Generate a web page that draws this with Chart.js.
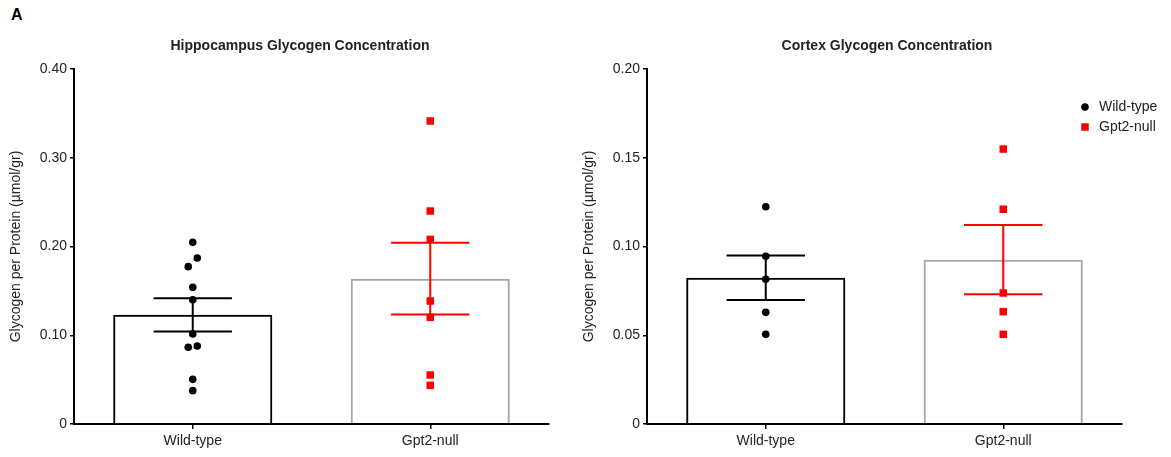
<!DOCTYPE html>
<html>
<head>
<meta charset="utf-8">
<script src="https://cdn.jsdelivr.net/npm/chart.js@4/dist/chart.umd.min.js"></script>
<style>
  html, body { margin: 0; padding: 0; background: #fff; overflow: hidden; }
  #wrap { position: relative; width: 1171px; height: 457px; }
  #tag { position: absolute; left: 11px; top: 6px; font: bold 16px "Liberation Sans", Arial, sans-serif; color: #000; }
  canvas { position: absolute; top: 0; }
</style>
</head>
<body>
<div id="wrap">
  <div id="tag">A</div>
  <canvas id="hippo" width="573" height="457" style="left:0"></canvas>
  <canvas id="cortex" width="598" height="457" style="left:573px"></canvas>
</div>
<script>
const groups = ['Wild-type', 'Gpt2-null'];

// Hippocampus glycogen per protein (µmol/gr), one value per animal
const hippoWildType = [0.2047, 0.1870, 0.1773, 0.1540, 0.1400, 0.1014, 0.0879, 0.0864, 0.0503, 0.0376];
const hippoGpt2Null = [0.3414, 0.2400, 0.2080, 0.1386, 0.1202, 0.0552, 0.0436];
const hippoMean = [0.1230, 0.1638];
const hippoSem = [0.0188, 0.0404];
const hippoTicks = [0, 0.1, 0.2, 0.3, 0.4];

// Cortex glycogen per protein (µmol/gr)
const cortexWildType = [0.1224, 0.0945, 0.0815, 0.0629, 0.0505];
const cortexGpt2Null = [0.1549, 0.1210, 0.0738, 0.0633, 0.0505];
const cortexMean = [0.0824, 0.0926];
const cortexSem = [0.0125, 0.0195];
const cortexTicks = [0, 0.05, 0.10, 0.15, 0.20];

const yAxisTitle = 'Glycogen per Protein (µmol/gr)';

// horizontal spread of overlapping dots, in category units
const hippoWildTypeSpread = [0, 0.019, -0.019, 0, 0, 0, 0.019, -0.019, 0, 0];

const FONT = '"Liberation Sans", Arial, Helvetica, sans-serif';
const INK = '#222';

// mean ± SEM whiskers drawn on the jitter axis
const errorBars = {
  id: 'errorBars',
  afterDatasetsDraw(chart, args, o) {
    const ctx = chart.ctx, xs = chart.scales.xj, ys = chart.scales.y;
    o.center.forEach((m, i) => {
      const s = o.spread[i];
      const xc = xs.getPixelForValue(i);
      const xl = xs.getPixelForValue(i - o.cap);
      const xr = xs.getPixelForValue(i + o.cap);
      const yt = ys.getPixelForValue(m + s);
      const yb = ys.getPixelForValue(m - s);
      ctx.save();
      ctx.strokeStyle = o.colors[i];
      ctx.lineWidth = o.width;
      ctx.beginPath();
      ctx.moveTo(xc, yt); ctx.lineTo(xc, yb);
      ctx.moveTo(xl, yt); ctx.lineTo(xr, yt);
      ctx.moveTo(xl, yb); ctx.lineTo(xr, yb);
      ctx.stroke();
      ctx.restore();
    });
  }
};

// panel heading
const panelTitle = {
  id: 'panelTitle',
  afterDraw(chart, args, o) {
    if (!o.text) return;
    const ctx = chart.ctx;
    ctx.save();
    ctx.font = 'bold 14px ' + FONT;
    ctx.fillStyle = INK;
    ctx.textAlign = 'center';
    ctx.textBaseline = 'middle';
    ctx.fillText(o.text, o.x, o.y);
    ctx.restore();
  }
};

// key listing the dot series
const dotKey = {
  id: 'dotKey',
  afterDraw(chart, args, o) {
    if (!o.show) return;
    const ctx = chart.ctx;
    let y = o.y;
    chart.data.datasets.filter(d => d.type === 'scatter').forEach(d => {
      ctx.save();
      ctx.fillStyle = d.backgroundColor;
      ctx.strokeStyle = d.backgroundColor;
      Chart.helpers.drawPoint(ctx, {
        pointStyle: d.pointStyle, radius: d.pointRadius, rotation: 0, borderWidth: 0
      }, o.x, y);
      ctx.restore();
      ctx.save();
      ctx.font = '14px ' + FONT;
      ctx.fillStyle = INK;
      ctx.textAlign = 'left';
      ctx.textBaseline = 'middle';
      ctx.fillText(d.label, o.x + 14, y);
      ctx.restore();
      y += o.step;
    });
  }
};

function dots(values, idx, spread) {
  return values.map((v, i) => ({ x: idx + (spread ? spread[i] : 0), y: v }));
}

function makePanel(id, cfg) {
  const ticks = cfg.ticks;
  return new Chart(document.getElementById(id), {
    type: 'bar',
    data: {
      labels: groups,
      datasets: [
        {
          type: 'bar',
          label: 'Mean',
          data: cfg.mean,
          xAxisID: 'x',
          yAxisID: 'y',
          backgroundColor: 'rgba(0,0,0,0)',
          borderColor: ['#000000', '#a7a7a9'],
          borderWidth: 2,
          borderSkipped: 'start',
          grouped: false,
          barPercentage: 0.67,
          categoryPercentage: 1,
          order: 3
        },
        {
          type: 'scatter',
          label: groups[0],
          data: dots(cfg.wt, 0, cfg.wtSpread),
          xAxisID: 'xj',
          yAxisID: 'y',
          pointStyle: 'circle',
          pointRadius: 3.8,
          backgroundColor: '#000000',
          borderWidth: 0,
          order: 1
        },
        {
          type: 'scatter',
          label: groups[1],
          data: dots(cfg.ko, 1, null),
          xAxisID: 'xj',
          yAxisID: 'y',
          pointStyle: 'rect',
          pointRadius: 5.3,
          backgroundColor: '#ff0000',
          borderWidth: 0,
          order: 2
        }
      ]
    },
    options: {
      responsive: false,
      animation: false,
      events: [],
      layout: { padding: { left: 0, top: 69, right: cfg.padRight, bottom: 0 } },
      scales: {
        x: {
          type: 'category',
          offset: true,
          grid: { display: true, drawOnChartArea: false, offset: false, color: '#000', lineWidth: 1.5, tickLength: 5 },
          border: { display: true, color: '#000', width: 2 },
          ticks: { color: INK, font: { family: FONT, size: 14 }, padding: 4, maxRotation: 0 },
          afterFit(s) { s.height = 33; }
        },
        xj: { type: 'linear', display: false, offset: false, min: -0.5, max: 1.5 },
        y: {
          type: 'linear',
          min: ticks[0],
          max: ticks[ticks.length - 1],
          afterBuildTicks(s) { s.ticks = ticks.map(v => ({ value: v })); },
          ticks: {
            color: INK,
            font: { family: FONT, size: 14 },
            padding: 3,
            callback: v => (v === 0 ? '0' : v.toFixed(2))
          },
          grid: { display: true, drawOnChartArea: false, color: '#000', lineWidth: 1.5, tickLength: 4 },
          border: { display: true, color: '#000', width: 2 },
          title: { display: true, text: yAxisTitle, color: INK, font: { family: FONT, size: 14 }, padding: { top: 8, bottom: 0 } },
          afterFit(s) { s.width = 74; }
        }
      },
      plugins: {
        legend: { display: false },
        tooltip: { enabled: false },
        errorBars: { center: cfg.mean, spread: cfg.sem, colors: ['#000000', '#ff0000'], cap: 0.165, width: 2 },
        panelTitle: { text: cfg.title, x: cfg.titleX, y: 46 },
        dotKey: cfg.key
      }
    },
    plugins: [errorBars, panelTitle, dotKey]
  });
}

makePanel('hippo', {
  title: 'Hippocampus Glycogen Concentration', titleX: 300,
  wt: hippoWildType, ko: hippoGpt2Null, wtSpread: hippoWildTypeSpread,
  mean: hippoMean, sem: hippoSem, ticks: hippoTicks,
  padRight: 24, key: { show: false }
});

makePanel('cortex', {
  title: 'Cortex Glycogen Concentration', titleX: 314,
  wt: cortexWildType, ko: cortexGpt2Null, wtSpread: null,
  mean: cortexMean, sem: cortexSem, ticks: cortexTicks,
  padRight: 49, key: { show: true, x: 512, y: 107, step: 20 }
});
</script>
</body>
</html>
